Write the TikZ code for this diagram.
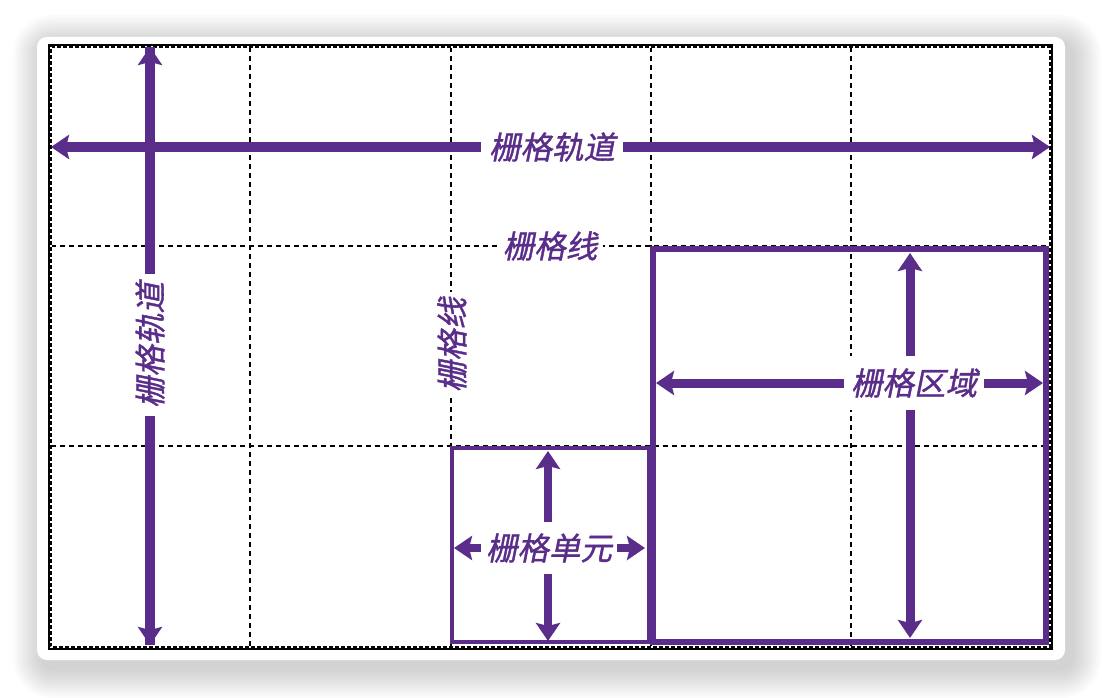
\documentclass[tikz,border=0pt]{standalone}
\usepackage{fontspec}
\usepackage{tikz}
\usetikzlibrary{arrows.meta}
\newfontfamily\cjk[FakeSlant=0.2,FakeBold=1.2]{Noto Sans CJK SC}
\definecolor{gridpurple}{RGB}{90,45,138}
\tikzset{
	gridline/.style={line width=1.4pt, dash pattern=on 5pt off 4pt},
	track/.style={draw=gridpurple, line width=#1, -{Stealth[length=18pt,width=24pt,inset=3pt]}},
	track/.default=10pt,
	lbl/.style={fill=white, text=gridpurple, font=\cjk\fontsize{31.5}{31.5}\selectfont, inner xsep=8pt, inner ysep=10pt}
}

\begin{document}
\begin{tikzpicture}[x=1pt, y=-1pt]
			%%%%% START %%%%%
			\useasboundingbox (0, 0) rectangle (1102, 698);
			
			% card and its shadow
			\foreach \i in {1,...,12}
				\fill[black, opacity=0.016, rounded corners={10pt+\i*2.5pt}] ({43-\i*2.5}, {45-\i*2.5}) rectangle ({1071+\i*2.5}, {668+\i*2.5});
			\fill[white, rounded corners=10pt] (37, 37) rectangle (1065, 660);
			
			% grid lines
			\foreach \x in {250, 451, 651, 851}
				\draw[gridline] (\x, 47) -- (\x, 647);
			\foreach \y in {246, 446}
				\draw[gridline] (51, \y) -- (1050, \y);
			\draw[line width=4pt] (50, 46) rectangle (1051, 648);
			\draw[white, line width=1.2pt, dash pattern=on 2pt off 4pt] (51, 47) rectangle (1050, 647);
			
			% cell and area
			\draw[gridpurple, line width=4pt] (452, 448) rectangle (649, 642);
			\draw[gridpurple, line width=5.5pt] (653, 249) rectangle (1046, 642);
			
			% tracks
			\coordinate (trackL) at (51, 147);
			\coordinate (trackR) at (1050, 147);
			\coordinate (trackT) at (150, 47);
			\coordinate (trackB) at (150, 645);
			\draw[track] (trackT) -- (trackB);
			\draw[track] (trackB) -- (trackT);
			\node[lbl] (trackLblH) at (552, 147) {栅格轨道};
			\draw[track] (trackLblH) -- (trackL);
			\draw[track] (trackLblH) -- (trackR);
			\node[lbl, rotate=90] (trackLblV) at (150, 345) {栅格轨道};
			
			% grid line labels
			\node[lbl, inner xsep=6pt, inner ysep=5pt] (lineLblH) at (550, 246) {栅格线};
			\node[lbl, rotate=90, inner xsep=6pt, inner ysep=5pt] (lineLblV) at (452, 345) {栅格线};
			
			% grid cell
			\coordinate (cellT) at (548, 451);
			\coordinate (cellB) at (548, 641);
			\coordinate (cellL) at (454, 548);
			\coordinate (cellR) at (645, 548);
			\node[lbl, inner xsep=5pt, inner ysep=11pt] (cellLbl) at (549, 548) {栅格单元};
			\draw[track=8pt] (cellLbl.north -| cellT) -- (cellT);
			\draw[track=8pt] (cellLbl.south -| cellB) -- (cellB);
			\draw[track=8pt] (cellLbl) -- (cellL);
			\draw[track=8pt] (cellLbl) -- (cellR);
			
			% grid area
			\coordinate (areaT) at (910, 253);
			\coordinate (areaB) at (910, 638);
			\coordinate (areaL) at (656, 383);
			\coordinate (areaR) at (1043, 383);
			\node[lbl, inner xsep=7pt, inner ysep=12pt] (areaLbl) at (914, 383) {栅格区域};
			\draw[track=9pt] (areaLbl.north -| areaT) -- (areaT);
			\draw[track=9pt] (areaLbl.south -| areaB) -- (areaB);
			\draw[track=9pt] (areaLbl) -- (areaL);
			\draw[track=9pt] (areaLbl) -- (areaR);
			%%%%% END %%%%%
\end{tikzpicture}
\end{document}
